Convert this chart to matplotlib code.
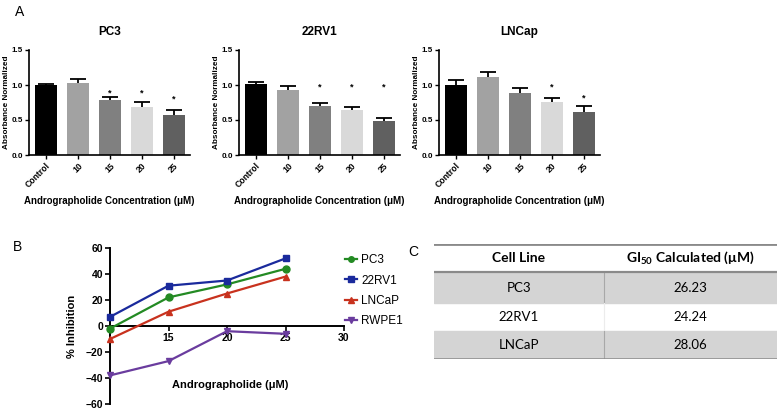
import numpy as np
import matplotlib
matplotlib.use("Agg")
import matplotlib.pyplot as plt

plt.rcParams["font.family"] = ["Liberation Sans", "DejaVu Sans"]
plt.rcParams["mathtext.fontset"] = "custom"
plt.rcParams["mathtext.rm"] = "Lato"
plt.rcParams["mathtext.bf"] = "Lato:bold"

# Panel A data
conc_labels = ["Control", "10", "15", "20", "25"]
bar_colors = ["#000000", "#a2a2a2", "#808080", "#d9d9d9", "#606060"]
cell_titles = ["PC3", "22RV1", "LNCap"]
pc3_mean = [1.00, 1.03, 0.78, 0.68, 0.57]
pc3_err = [0.02, 0.06, 0.05, 0.08, 0.08]
rv1_mean = [1.01, 0.93, 0.70, 0.65, 0.48]
rv1_err = [0.03, 0.06, 0.04, 0.03, 0.05]
lncap_mean = [1.00, 1.11, 0.89, 0.76, 0.62]
lncap_err = [0.07, 0.08, 0.07, 0.06, 0.08]
# significance stars: (bar index, height)
pc3_stars = [(2, 0.89), (3, 0.89), (4, 0.80)]
rv1_stars = [(2, 0.97), (3, 0.97), (4, 0.97)]
lncap_stars = [(3, 0.97), (4, 0.82)]

# Panel B data
doses = [10, 15, 20, 25]
inh_pc3 = [-2, 22, 32, 44]
inh_22rv1 = [7, 31, 35, 52]
inh_lncap = [-10, 11, 25, 38]
inh_rwpe1 = [-38, -27, -4, -6]

# Panel C data
table_header = ["Cell Line", r"GI$_{\mathbf{50}}$ Calculated (μM)"]
table_cells = ["PC3", "22RV1", "LNCaP"]
table_gi50 = ["26.23", "24.24", "28.06"]

fig = plt.figure(figsize=(7.8, 4.12), dpi=100)

W, H = 780.0, 412.0
panels = [
    (29, pc3_mean, pc3_err, pc3_stars),
    (239, rv1_mean, rv1_err, rv1_stars),
    (439, lncap_mean, lncap_err, lncap_stars),
]
x = np.arange(len(conc_labels))
for (left, mean, err, stars), title in zip(panels, cell_titles):
    ax = fig.add_axes([left / W, 1 - 155 / H, 161 / W, 105 / H])
    ax.bar(x, mean, width=0.7, color=bar_colors, zorder=2)
    _, caps, _ = ax.errorbar(x, mean, yerr=[np.zeros(len(err)), err],
                             fmt="none", ecolor="black", elinewidth=1.3,
                             capsize=5.5, capthick=1.3, zorder=3,
                             clip_on=False)
    caps[0].set_visible(False)
    for i, h in stars:
        ax.text(i, h, "*", ha="center", va="center", fontsize=6.5,
                fontweight="bold")
    ax.set_xlim(-0.53, 4.5)
    ax.set_ylim(0, 1.5)
    ax.set_yticks([0.0, 0.5, 1.0, 1.5])
    ax.set_yticklabels(["0.0", "0.5", "1.0", "1.5"], fontsize=5.8,
                       fontweight="bold")
    ax.set_xticks(x)
    ax.set_xticklabels(conc_labels, rotation=45, ha="right",
                       rotation_mode="anchor", fontsize=6.2,
                       fontweight="bold")
    for s in ["top", "right"]:
        ax.spines[s].set_visible(False)
    for s in ["left", "bottom"]:
        ax.spines[s].set_linewidth(1.2)
    ax.tick_params(length=3, width=1.0, pad=1.2)
    ax.set_ylabel("Absorbance Normalized", fontsize=5.9, fontweight="bold",
                  labelpad=1.5)
    ax.set_xlabel("Andrographolide Concentration (μM)", fontsize=7,
                  fontweight="bold", labelpad=5)
    ax.set_title(title, fontsize=8.5, fontweight="bold", pad=11)

fig.text(20 / W, 1 - 12 / H, "A", fontsize=10, ha="center", va="center")
fig.text(18 / W, 1 - 247 / H, "B", fontsize=10, ha="center", va="center")
fig.text(413 / W, 1 - 252 / H, "C", fontsize=10, ha="center", va="center")

# Panel B
axb = fig.add_axes([110 / W, 1 - 404 / H, 234 / W, 156 / H])
series = [
    ("PC3", inh_pc3, "#238a23", "o"),
    ("22RV1", inh_22rv1, "#1a2a9c", "s"),
    ("LNCaP", inh_lncap, "#c8321e", "^"),
    ("RWPE1", inh_rwpe1, "#6a3c9e", "v"),
]
for name, vals, col, mk in series:
    axb.plot(doses, vals, color=col, marker=mk, markersize=5, lw=1.6,
             label=name, clip_on=False, zorder=3)
axb.set_xlim(10, 30)
axb.set_ylim(-60, 60)
axb.set_xticks([15, 20, 25, 30])
axb.set_yticks([-60, -40, -20, 0, 20, 40, 60])
axb.spines["bottom"].set_position(("data", 0))
for s in ["top", "right"]:
    axb.spines[s].set_visible(False)
for s in ["left", "bottom"]:
    axb.spines[s].set_linewidth(1.4)
axb.tick_params(length=3.5, width=1.2, labelsize=7.5, pad=1.5)
for lab in axb.get_xticklabels() + axb.get_yticklabels():
    lab.set_fontweight("bold")
axb.set_ylabel("% Inhibition", fontsize=8, fontweight="bold", labelpad=6)
axb.text(20.3, -45, "Andrographolide (μM)", fontsize=8, fontweight="bold",
         ha="center", va="center")
axb.legend(loc="upper left", bbox_to_anchor=(0.985, 0.99), frameon=False,
           fontsize=8.5, handlelength=1.0, handletextpad=0.35,
           labelspacing=0.7, borderaxespad=0, markerscale=0.8)

# Panel C table
axc = fig.add_axes([434 / W, 1 - 359 / H, 343 / W, 115 / H])
axc.set_xlim(0, 343)
axc.set_ylim(115, 0)
axc.axis("off")
row_h = [28, 31, 28, 28]
tops = np.cumsum([0] + row_h[:-1])
col_x = [0, 170, 343]
for r in range(len(table_cells)):
    y0 = tops[r + 1]
    if r % 2 == 0:
        axc.add_patch(plt.Rectangle((0, y0), 343, row_h[r + 1],
                                    color="#d4d4d4", zorder=1))
        axc.plot([170, 170], [y0, y0 + row_h[r + 1]], color="#a8a8a8",
                 lw=0.8, zorder=2)
    else:
        axc.plot([170, 170], [y0, y0 + row_h[r + 1]], color="#ececec",
                 lw=0.8, zorder=2)
    axc.text(85, y0 + row_h[r + 1] / 2, table_cells[r], fontsize=9.5,
             family="Lato", ha="center", va="center", zorder=3)
    axc.text(256, y0 + row_h[r + 1] / 2, table_gi50[r], fontsize=9.5,
             family="Lato", ha="center", va="center", zorder=3)
for j, head in enumerate(table_header):
    axc.text((col_x[j] + col_x[j + 1]) / 2, 14, head, fontsize=10,
             family="Lato", fontweight="bold", ha="center", va="center")
axc.plot([0, 343], [0, 0], color="#8a8a8a", lw=2, zorder=4)
axc.plot([0, 343], [28, 28], color="#8a8a8a", lw=1.6, zorder=4)
axc.plot([0, 343], [115, 115], color="#8a8a8a", lw=1.8, zorder=4)

fig.savefig("out.png", dpi=100)
